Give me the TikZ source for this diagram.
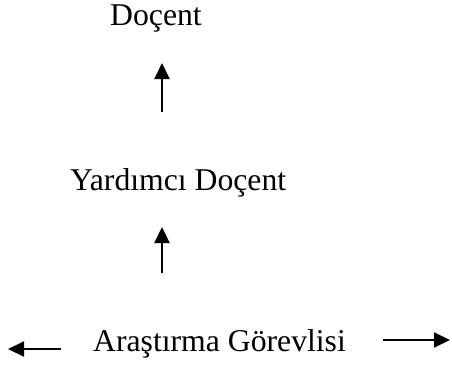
\documentclass[tikz,border=0pt]{standalone}
\usepackage{fontspec}
\setmainfont{Liberation Serif}
\usetikzlibrary{arrows.meta}
\begin{document}
\begin{tikzpicture}[x=1pt,y=-1pt,
  lbl/.style={anchor=base west,inner sep=0pt,font=\fontsize{31.7pt}{36pt}\selectfont},
  arr/.style={line width=2pt,-{Triangle[width=15pt,length=16pt]}}]
\useasboundingbox (0,0) rectangle (452,367);
\node[lbl] (doc) at (110,25) {Doçent};
\node[lbl] (yrd) at (70,190) {Yardımcı Doçent};
\node[lbl] (ars) at (93,351) {Araştırma Görevlisi};
\coordinate (a1s) at (162,112);
\coordinate (a1e) at (162,63);
\coordinate (a2s) at (162,273);
\coordinate (a2e) at (162,227);
\coordinate (l1s) at (61,349);
\coordinate (l1e) at (8,349);
\coordinate (r1s) at (383,340);
\coordinate (r1e) at (450,340);
\draw[arr] (a1s) -- (a1e);
\draw[arr] (a2s) -- (a2e);
\draw[arr] (l1s) -- (l1e);
\draw[arr] (r1s) -- (r1e);
\end{tikzpicture}
\end{document}
